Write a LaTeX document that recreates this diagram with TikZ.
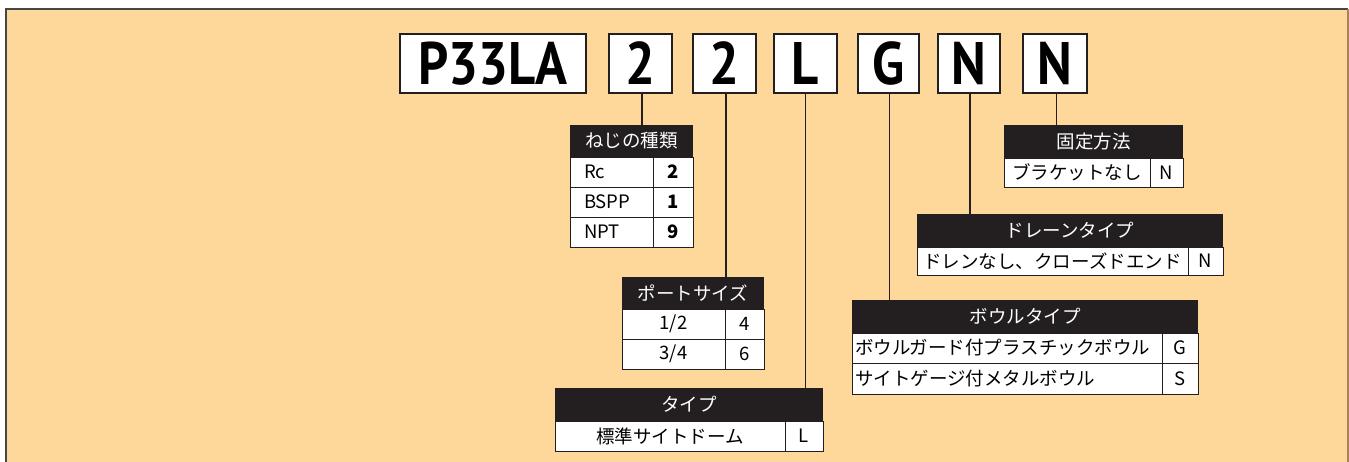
\documentclass[tikz,border=0pt]{standalone}
\usepackage{graphicx}
\usepackage{fontspec}
\setmainfont{Noto Sans CJK JP}
\newfontfamily\jp{Noto Sans CJK JP}
\newfontfamily\bigf{PT Sans}
\definecolor{bg}{RGB}{254,216,154}
\definecolor{ink}{RGB}{35,31,32}
\definecolor{frameL}{RGB}{70,70,70}
\definecolor{frameR}{RGB}{170,130,90}
\begin{document}
\begin{tikzpicture}[x=1pt,y=-1pt,
  codebox/.style={draw=ink, line width=1.6pt, fill=white, inner sep=0pt, outer sep=0pt,
    minimum height=59pt, font=\bigf\bfseries\fontsize{60}{60}\selectfont},
  head/.style={fill=ink, text=white, inner sep=0pt, outer sep=0pt, anchor=north west,
    font=\jp\fontsize{18.5}{18.5}\selectfont},
  cellC/.style={draw=ink, line width=1pt, fill=white, inner sep=0pt, outer sep=0pt,
    anchor=north west, font=\jp\fontsize{18.5}{18.5}\selectfont},
  cellL/.style={cellC, inner xsep=#1, align=left},
  link/.style={draw=ink, line width=1.6pt}]
\useasboundingbox (0,0) rectangle (1349,461);
% background panel
\fill[bg] (6,9) rectangle (1349,462);
\draw[frameL, line width=1.2pt] (6,462) -- (6,9) -- (1348,9);
\draw[frameR, line width=1.2pt] (1348,9) -- (1348,462);

% code boxes
\node[codebox, minimum width=186pt] (bP) at (493,63.5) {\scalebox{0.88}[1]{P33LA}};
\node[codebox, minimum width=63pt] (b1) at (640.5,63.5) {\scalebox{0.88}[1]{2}};
\node[codebox, minimum width=63pt] (b2) at (724.5,63.5) {\scalebox{0.88}[1]{2}};
\node[codebox, minimum width=63pt] (b3) at (805.5,63.5) {\scalebox{0.88}[1]{L}};
\node[codebox, minimum width=61pt] (b4) at (888.5,63.5) {\scalebox{0.88}[1]{G}};
\node[codebox, minimum width=62pt] (b5) at (969,63.5) {\scalebox{0.88}[1]{N}};
\node[codebox, minimum width=64pt] (b6) at (1055,63.5) {\scalebox{0.88}[1]{N}};

% table 1: ねじの種類
\node[head, minimum width=123pt, minimum height=32pt] (h1) at (570,125) {ねじの種類};
\node[cellL=14pt, text width=55pt, minimum height=30pt] (t1a1) at (570,157) {Rc};
\node[cellC, minimum width=40pt, minimum height=30pt] (t1b1) at (653,157) {\bfseries 2};
\node[cellL=14pt, text width=55pt, minimum height=30pt] (t1a2) at (570,187) {BSPP};
\node[cellC, minimum width=40pt, minimum height=30pt] (t1b2) at (653,187) {\bfseries 1};
\node[cellL=14pt, text width=55pt, minimum height=30pt] (t1a3) at (570,217) {NPT};
\node[cellC, minimum width=40pt, minimum height=30pt] (t1b3) at (653,217) {\bfseries 9};

% table 2: ポートサイズ
\node[head, minimum width=142pt, minimum height=32pt] (h2) at (622,277) {ポートサイズ};
\node[cellC, minimum width=103pt, minimum height=30pt] (t2a1) at (622,309) {1/2};
\node[cellC, minimum width=39pt, minimum height=30pt] (t2b1) at (725,309) {4};
\node[cellC, minimum width=103pt, minimum height=30pt] (t2a2) at (622,339) {3/4};
\node[cellC, minimum width=39pt, minimum height=30pt] (t2b2) at (725,339) {6};

% table 3: タイプ
\node[head, minimum width=268pt, minimum height=33pt] (h3) at (555,388) {タイプ};
\node[cellC, minimum width=230pt, minimum height=30pt] (t3a1) at (555,421) {標準サイトドーム};
\node[cellC, minimum width=38pt, minimum height=30pt] (t3b1) at (785,421) {L};

% table 4: ボウルタイプ
\node[head, minimum width=346pt, minimum height=33pt] (h4) at (852,300) {ボウルタイプ};
\node[cellL=3pt, text width=304pt, minimum height=30pt] (t4a1) at (852,333) {ボウルガード付プラスチックボウル};
\node[cellC, minimum width=36pt, minimum height=30pt] (t4b1) at (1162,333) {G};
\node[cellL=3pt, text width=304pt, minimum height=31pt] (t4a2) at (852,363) {サイトゲージ付メタルボウル};
\node[cellC, minimum width=36pt, minimum height=31pt] (t4b2) at (1162,363) {S};

% table 5: 固定方法
\node[head, minimum width=179pt, minimum height=33pt] (h5) at (1004,125) {固定方法};
\node[cellC, minimum width=146pt, minimum height=29pt] (t5a1) at (1004,158) {ブラケットなし};
\node[cellC, minimum width=33pt, minimum height=29pt] (t5b1) at (1150,158) {N};

% table 6: ドレーンタイプ
\node[head, minimum width=306pt, minimum height=33pt] (h6) at (917,214) {ドレーンタイプ};
\node[cellC, minimum width=271pt, minimum height=28pt] (t6a1) at (917,247) {ドレンなし、クローズドエンド};
\node[cellC, minimum width=35pt, minimum height=28pt] (t6b1) at (1188,247) {N};

% connectors
\draw[link] ([xshift=1.5pt]b1.south) -- ([xshift=1.5pt]b1.south |- h1.north);
\draw[link] ([xshift=1.5pt]b2.south) -- ([xshift=1.5pt]b2.south |- h2.north);
\draw[link] (b3.south) -- (b3.south |- h3.north);
\draw[link] ([xshift=1pt]b4.south) -- ([xshift=1pt]b4.south |- h4.north);
\draw[link] ([xshift=1pt]b5.south) -- ([xshift=1pt]b5.south |- h6.north);
\draw[link] ([xshift=1.5pt]b6.south) -- ([xshift=1.5pt]b6.south |- h5.north);
\end{tikzpicture}
\end{document}
